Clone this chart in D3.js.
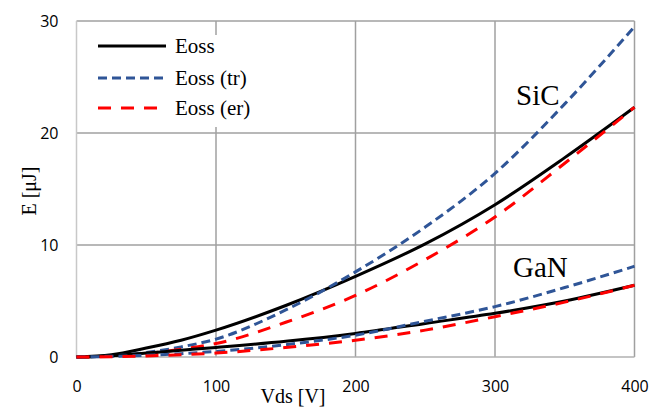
<!DOCTYPE html>
<html>
<head>
<meta charset="utf-8">
<script src="https://cdn.jsdelivr.net/npm/d3@7"></script>
<style>
  html, body { margin: 0; padding: 0; background: #fff; }
  svg { display: block; }
</style>
</head>
<body>
<svg id="chart" width="665" height="408"></svg>
<script>
// Drain-source voltage samples [V]
const vds = [0, 25, 50, 75, 100, 150, 200, 250, 300, 350, 400];

// SiC device energies [µJ]
const sicEoss   = [0, 0.2, 0.8, 1.5, 2.4, 4.6, 7.2, 10.1, 13.6, 17.8, 22.3];
const sicEossTr = [0, 0.1, 0.4, 0.9, 1.6, 4.2, 7.6, 11.6, 16.4, 22.6, 29.5];
const sicEossEr = [0, 0.05, 0.3, 0.7, 1.2, 3.1, 5.5, 8.7, 12.5, 17.3, 22.3];

// GaN device energies [µJ]
const ganEoss   = [0, 0.1, 0.35, 0.6, 0.85, 1.4, 2.1, 3.0, 3.9, 5.0, 6.4];
const ganEossTr = [0, 0.05, 0.15, 0.3, 0.5, 1.1, 1.95, 3.2, 4.5, 6.2, 8.1];
const ganEossEr = [0, 0.03, 0.1, 0.2, 0.35, 0.85, 1.5, 2.4, 3.6, 4.9, 6.4];

const xTicks = [0, 100, 200, 300, 400];
const yTicks = [0, 10, 20, 30];

const seriesNames = ["Eoss", "Eoss (tr)", "Eoss (er)"];
const seriesColors = ["#000000", "#2f5597", "#ff0000"];
const seriesDash = [null, "9,5", "13,10"];

const svg = d3.select("#chart");
const plotLeft = 76.5, plotRight = 634.5, plotTop = 21, plotBottom = 357;

const x = d3.scaleLinear().domain([0, 400]).range([plotLeft, plotRight]);
const y = d3.scaleLinear().domain([0, 30]).range([plotBottom, plotTop]);

// gridlines
const grid = svg.append("g");
grid.selectAll("line.h").data(yTicks.filter(d => d > 0)).join("line")
  .attr("class", "h")
  .attr("x1", plotLeft).attr("x2", plotRight)
  .attr("y1", d => y(d)).attr("y2", d => y(d))
  .attr("stroke", "#a0a0a0").attr("stroke-width", 1.5);
grid.selectAll("line.v").data(xTicks.filter(d => d > 0)).join("line")
  .attr("class", "v")
  .attr("y1", plotTop).attr("y2", plotBottom)
  .attr("x1", d => x(d)).attr("x2", d => x(d))
  .attr("stroke", "#a0a0a0").attr("stroke-width", 1.5);

// axis lines
svg.append("line").attr("x1", plotLeft).attr("x2", plotLeft).attr("y1", plotTop).attr("y2", plotBottom)
  .attr("stroke", "#c8c8c8").attr("stroke-width", 1.5);
svg.append("line").attr("x1", plotLeft).attr("x2", plotRight).attr("y1", plotBottom).attr("y2", plotBottom)
  .attr("stroke", "#b0b0b0").attr("stroke-width", 1.5);

// tick labels via d3 axes
const xAxis = svg.append("g").attr("transform", `translate(0,${plotBottom})`)
  .call(d3.axisBottom(x).tickValues(xTicks).tickSize(0).tickPadding(24));
const yAxis = svg.append("g").attr("transform", `translate(${plotLeft},0)`)
  .call(d3.axisLeft(y).tickValues(yTicks).tickSize(0).tickPadding(18));
[xAxis, yAxis].forEach(a => {
  a.select(".domain").remove();
  a.selectAll("text").attr("font-family", "'Open Sans', sans-serif")
    .attr("font-size", 16).attr("fill", "#000");
});

// legend box (covers the grid in the top-left cell)
svg.append("rect").attr("x", 80).attr("y", 35).attr("width", 182).attr("height", 92)
  .attr("fill", "#fff");

const line = d3.line().x((d, i) => x(vds[i])).y(d => y(d)).curve(d3.curveMonotoneX);
const groups = [[sicEoss, sicEossTr, sicEossEr], [ganEoss, ganEossTr, ganEossEr]];
groups.forEach(g => {
  g.forEach((vals, k) => {
    svg.append("path").datum(vals).attr("d", line)
      .attr("fill", "none").attr("stroke", seriesColors[k])
      .attr("stroke-width", 3)
      .attr("stroke-dasharray", seriesDash[k]);
  });
});

// legend entries
const legendY = [46, 78, 108];
seriesNames.forEach((name, k) => {
  svg.append("line").attr("x1", 98).attr("x2", 166)
    .attr("y1", legendY[k]).attr("y2", legendY[k])
    .attr("stroke", seriesColors[k]).attr("stroke-width", 3)
    .attr("stroke-dasharray", seriesDash[k]);
  svg.append("text").attr("x", 175).attr("y", legendY[k] + 7)
    .attr("font-family", "'Liberation Serif', serif").attr("font-size", 21)
    .text(name);
});

// device labels
svg.append("text").attr("x", 516).attr("y", 105)
  .attr("font-family", "'Liberation Serif', serif").attr("font-size", 29).text("SiC");
svg.append("text").attr("x", 513).attr("y", 277)
  .attr("font-family", "'Liberation Serif', serif").attr("font-size", 29).text("GaN");

// axis titles
svg.append("text").attr("x", 293).attr("y", 403).attr("text-anchor", "middle")
  .attr("font-family", "'Liberation Serif', serif").attr("font-size", 20).text("Vds [V]");
svg.append("text").attr("transform", "translate(36,191) rotate(-90)")
  .attr("text-anchor", "middle")
  .attr("font-family", "'Liberation Serif', serif").attr("font-size", 20).text("E [μJ]");
</script>
</body>
</html>
